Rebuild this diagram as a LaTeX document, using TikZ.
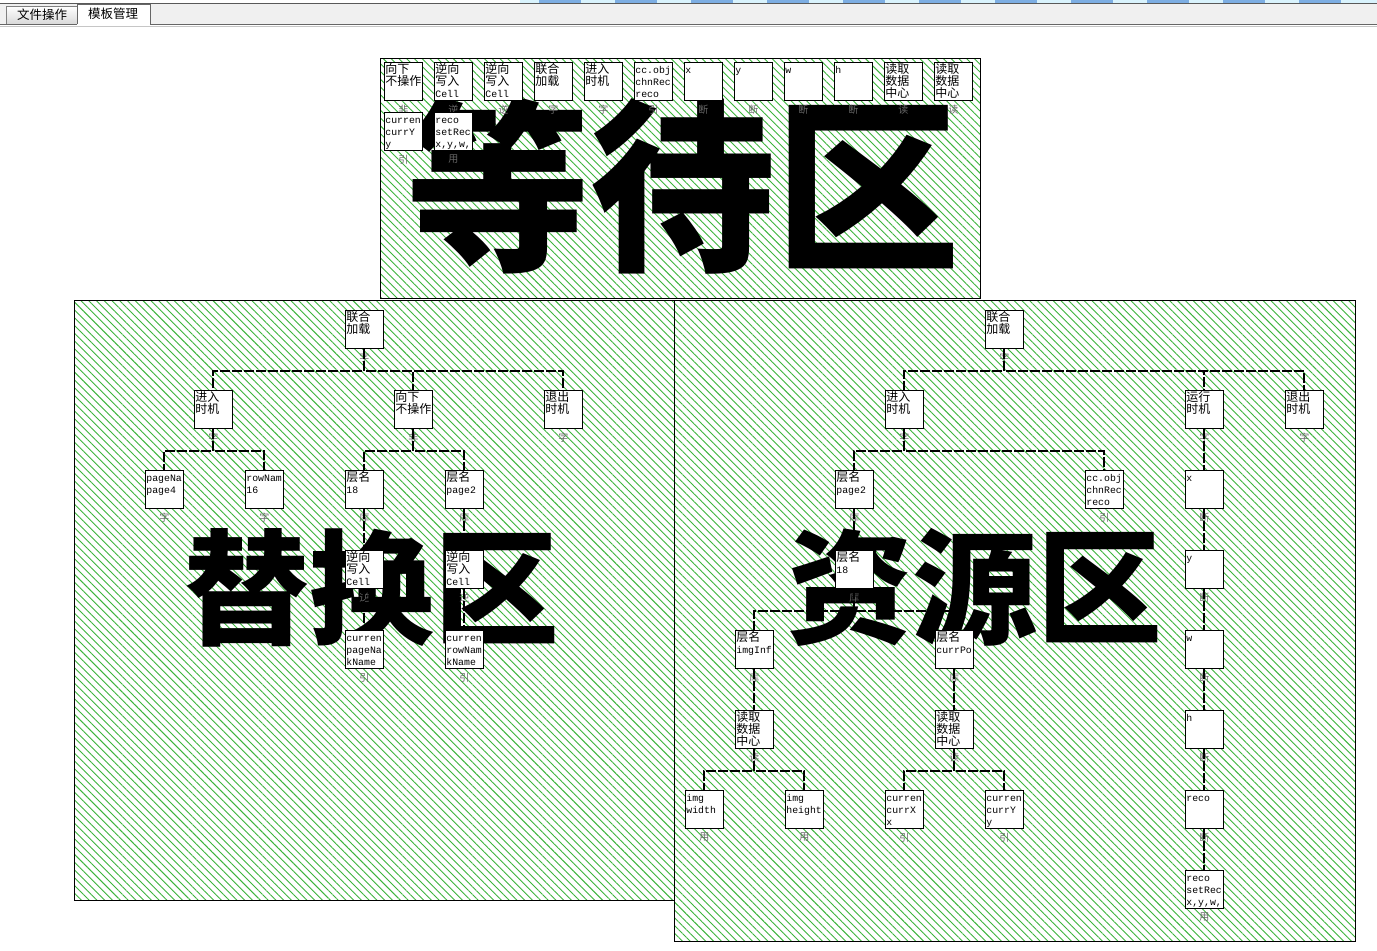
\documentclass[tikz,border=0pt]{standalone}
\usepackage{fontspec}
\setmainfont{Noto Sans CJK SC}
\setmonofont{Liberation Mono}[Scale=0.82]
\usetikzlibrary{patterns.meta}
\definecolor{hatch}{RGB}{60,180,60}
\definecolor{tabblue}{RGB}{70,140,215}
\definecolor{barbg}{RGB}{240,240,240}

\begin{document}
\begin{tikzpicture}[x=1pt, y=-1pt,
  zone/.style={draw=black, line width=0.8pt, preaction={fill=white},
    pattern={Lines[angle=-45,distance=5.5pt,line width=0.9pt]}, pattern color=hatch},
  box/.style={draw=black, line width=0.8pt, fill=white, anchor=north west, inner sep=1pt,
    text width=36pt, align=left, text height=10pt, text depth=26pt,
    font=\fontsize{12}{12}\selectfont},
  tag/.style={font=\fontsize{10}{10}\selectfont, text=black!60, inner sep=0pt, yshift=-4pt},
  link/.style={draw=black, line width=2pt, dash pattern=on 10pt off 2pt},
  big/.style={inner sep=0pt, font=\fontsize{125}{125}\selectfont\bfseries}]
\useasboundingbox (0,0) rectangle (1377,951);

% tab bar
\fill[cyan!15] (520,0) rectangle (1377,3);
\foreach \i in {0,...,10}
  \fill[tabblue!70] (539+76*\i,0) rectangle ++(42,3);
\draw[gray!70!black] (0,3.5) -- (1377,3.5);
\fill[barbg] (0,4) rectangle (1377,24);
\shade[top color=white, bottom color=gray!30] (6,6) rectangle (77,24);
\draw[gray] (6,24) -- (6,6) -- (77,6) -- (77,24);
\draw[gray!80!black, fill=white] (77,24) -- (77,4) -- (150,4) -- (150,24);
\node[font=\fontsize{12.5}{13}\selectfont] (tabfile) at (42,15) {文件操作};
\node[font=\fontsize{12.5}{13}\selectfont] (tabtpl) at (113,14) {模板管理};
\draw[gray!80!black] (0,24.5) -- (77,24.5) (150,24.5) -- (1377,24.5);
\draw[gray!45] (0,26.5) -- (1377,26.5);

% 替换区
\draw[zone] (74,300) rectangle (676,900);
\node[big] (bigswap) at (372,588) {替换区};
\node[box, label={[tag]below:字}] (llh) at (345,310) {联合\\加载};
\node[box, label={[tag]below:字}] (ljr) at (194,390) {进入\\时机};
\node[box, label={[tag]below:非}] (lxx) at (394,390) {向下\\不操作};
\node[box, label={[tag]below:字}] (ltc) at (544,390) {退出\\时机};
\node[box, label={[tag]below:字}] (lpage) at (145,470) {\texttt{pageNa}\\\texttt{page4}};
\node[box, label={[tag]below:字}] (lrow) at (245,470) {\texttt{rowNam}\\\texttt{16}};
\node[box, label={[tag]below:库}] (lcm1) at (345,470) {层名\\\texttt{18}};
\node[box, label={[tag]below:库}] (lcm2) at (445,470) {层名\\\texttt{page2}};
\node[box, label={[tag]below:逆}] (lnx1) at (345,550) {逆向\\写入\\\texttt{Cell}};
\node[box, label={[tag]below:逆}] (lnx2) at (445,550) {逆向\\写入\\\texttt{Cell}};
\node[box, label={[tag]below:引}] (lcur1) at (345,630) {\texttt{curren}\\\texttt{pageNa}\\\texttt{kName}};
\node[box, label={[tag]below:引}] (lcur2) at (445,630) {\texttt{curren}\\\texttt{rowNam}\\\texttt{kName}};
\draw[link] (llh.south) -- ++(0,22) -| (ljr.north);
\draw[link] (llh.south) -- ++(0,22) -| (lxx.north);
\draw[link] (llh.south) -- ++(0,22) -| (ltc.north);
\draw[link] (ljr.south) -- ++(0,22) -| (lpage.north);
\draw[link] (ljr.south) -- ++(0,22) -| (lrow.north);
\draw[link] (lxx.south) -- ++(0,22) -| (lcm1.north);
\draw[link] (lxx.south) -- ++(0,22) -| (lcm2.north);
\draw[link] (lcm1) -- (lnx1);
\draw[link] (lnx1) -- (lcur1);
\draw[link] (lcm2) -- (lnx2);
\draw[link] (lnx2) -- (lcur2);

% 资源区
\draw[zone] (674,300) rectangle (1355,941);
\node[big] (bigres) at (975,588) {资源区};
\node[box, label={[tag]below:字}] (rlh) at (985,310) {联合\\加载};
\node[box, label={[tag]below:字}] (rjr) at (885,390) {进入\\时机};
\node[box, label={[tag]below:字}] (ryx) at (1185,390) {运行\\时机};
\node[box, label={[tag]below:字}] (rtc) at (1285,390) {退出\\时机};
\node[box, label={[tag]below:库}] (rcm1) at (835,470) {层名\\\texttt{page2}};
\node[box, label={[tag]below:引}] (rcc) at (1085,470) {\texttt{cc.obj}\\\texttt{chnRec}\\\texttt{reco}};
\node[box, label={[tag]below:库}] (rcm2) at (835,550) {层名\\\texttt{18}};
\node[box, label={[tag]below:库}] (rimg) at (735,630) {层名\\\texttt{imgInf}};
\node[box, label={[tag]below:库}] (rpos) at (935,630) {层名\\\texttt{currPo}};
\node[box, label={[tag]below:读}] (rdq1) at (735,710) {读取\\数据\\中心};
\node[box, label={[tag]below:读}] (rdq2) at (935,710) {读取\\数据\\中心};
\node[box, label={[tag]below:用}] (rwid) at (685,790) {\texttt{img}\\\texttt{width}};
\node[box, label={[tag]below:用}] (rhei) at (785,790) {\texttt{img}\\\texttt{height}};
\node[box, label={[tag]below:引}] (rcx) at (885,790) {\texttt{curren}\\\texttt{currX}\\\texttt{x}};
\node[box, label={[tag]below:引}] (rcy) at (985,790) {\texttt{curren}\\\texttt{currY}\\\texttt{y}};
\node[box, label={[tag]below:断}] (rx) at (1185,470) {\texttt{x}};
\node[box, label={[tag]below:断}] (ry) at (1185,550) {\texttt{y}};
\node[box, label={[tag]below:断}] (rw) at (1185,630) {\texttt{w}};
\node[box, label={[tag]below:断}] (rh) at (1185,710) {\texttt{h}};
\node[box, label={[tag]below:断}] (rreco) at (1185,790) {\texttt{reco}};
\node[box, label={[tag]below:用}] (rset) at (1185,870) {\texttt{reco}\\\texttt{setRec}\\\texttt{x,y,w,}};
\draw[link] (rlh.south) -- ++(0,22) -| (rjr.north);
\draw[link] (rlh.south) -- ++(0,22) -| (ryx.north);
\draw[link] (rlh.south) -- ++(0,22) -| (rtc.north);
\draw[link] (rjr.south) -- ++(0,22) -| (rcm1.north);
\draw[link] (rjr.south) -- ++(0,22) -| (rcc.north);
\draw[link] (rcm1) -- (rcm2);
\draw[link] (rcm2.south) -- ++(0,22) -| (rimg.north);
\draw[link] (rcm2.south) -- ++(0,22) -| (rpos.north);
\draw[link] (rimg) -- (rdq1);
\draw[link] (rpos) -- (rdq2);
\draw[link] (rdq1.south) -- ++(0,22) -| (rwid.north);
\draw[link] (rdq1.south) -- ++(0,22) -| (rhei.north);
\draw[link] (rdq2.south) -- ++(0,22) -| (rcx.north);
\draw[link] (rdq2.south) -- ++(0,22) -| (rcy.north);
\draw[link] (ryx) -- (rx);
\draw[link] (rx) -- (ry);
\draw[link] (ry) -- (rw);
\draw[link] (rw) -- (rh);
\draw[link] (rh) -- (rreco);
\draw[link] (rreco) -- (rset);

% 等待区
\draw[zone] (380,58) rectangle (980,298);
\node[big, font=\fontsize{185}{185}\selectfont\bfseries] (bigwait) at (683,185) {等待区};
\node[box, label={[tag]below:非}] (wxx) at (384,62) {向下\\不操作};
\node[box, label={[tag]below:逆}] (wnx1) at (434,62) {逆向\\写入\\\texttt{Cell}};
\node[box, label={[tag]below:逆}] (wnx2) at (484,62) {逆向\\写入\\\texttt{Cell}};
\node[box, label={[tag]below:字}] (wlh) at (534,62) {联合\\加载};
\node[box, label={[tag]below:字}] (wjr) at (584,62) {进入\\时机};
\node[box, label={[tag]below:引}] (wcc) at (634,62) {\texttt{cc.obj}\\\texttt{chnRec}\\\texttt{reco}};
\node[box, label={[tag]below:断}] (wx) at (684,62) {\texttt{x}};
\node[box, label={[tag]below:断}] (wy) at (734,62) {\texttt{y}};
\node[box, label={[tag]below:断}] (ww) at (784,62) {\texttt{w}};
\node[box, label={[tag]below:断}] (wh) at (834,62) {\texttt{h}};
\node[box, label={[tag]below:读}] (wdq1) at (884,62) {读取\\数据\\中心};
\node[box, label={[tag]below:读}] (wdq2) at (934,62) {读取\\数据\\中心};
\node[box, label={[tag]below:引}] (wcy) at (384,112) {\texttt{curren}\\\texttt{currY}\\\texttt{y}};
\node[box, label={[tag]below:用}] (wset) at (434,112) {\texttt{reco}\\\texttt{setRec}\\\texttt{x,y,w,}};
\end{tikzpicture}
\end{document}
